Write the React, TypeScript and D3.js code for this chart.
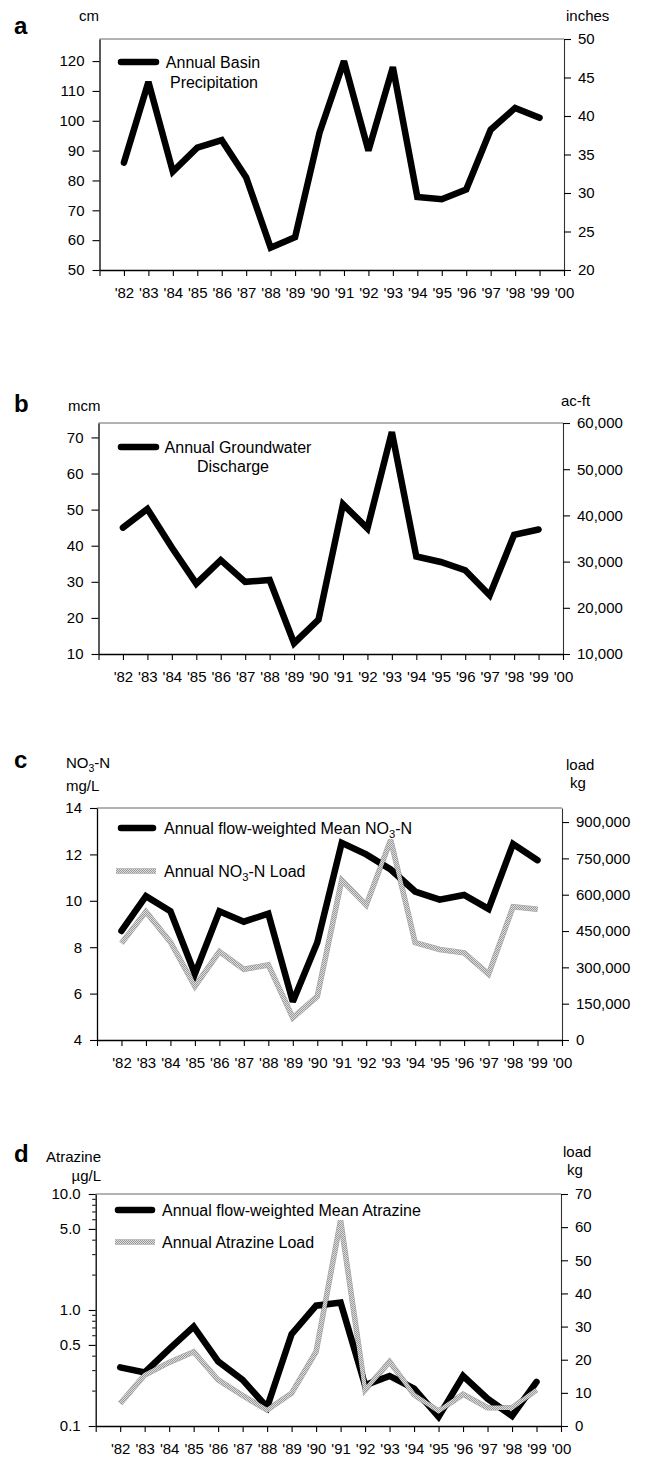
import React, { useEffect, useRef } from "react";
import * as d3 from "d3";

const FONT = "'Liberation Sans', Arial, Helvetica, sans-serif";

// years plotted, and the bottom axis ticks
const years = [1982, 1983, 1984, 1985, 1986, 1987, 1988, 1989, 1990, 1991, 1992, 1993, 1994, 1995, 1996, 1997, 1998, 1999];
const tickYears = [1981, 1982, 1983, 1984, 1985, 1986, 1987, 1988, 1989, 1990, 1991, 1992, 1993, 1994, 1995, 1996, 1997, 1998, 1999, 2000];
const yearLabels = ["'82", "'83", "'84", "'85", "'86", "'87", "'88", "'89", "'90", "'91", "'92", "'93", "'94", "'95", "'96", "'97", "'98", "'99", "'00"];

// a - annual basin precipitation (cm)
const precipCm = [86, 113, 83, 91, 93.5, 81, 57.5, 61, 96, 120, 90, 118, 74.5, 73.7, 77, 97, 104.3, 101];
const precipCmTicks = [50, 60, 70, 80, 90, 100, 110, 120];
const precipInTicks = [20, 25, 30, 35, 40, 45, 50];

// b - annual groundwater discharge (mcm)
const dischargeMcm = [45, 50.2, 39.5, 29.5, 36, 30, 30.5, 13, 19.5, 51.5, 44.8, 71.5, 37, 35.5, 33.2, 26.3, 43, 44.5];
const dischargeMcmTicks = [10, 20, 30, 40, 50, 60, 70];
const dischargeAcFtTicks = [10000, 20000, 30000, 40000, 50000, 60000];

// c - nitrate
const no3Mean = [8.7, 10.2, 9.55, 6.85, 9.55, 9.1, 9.45, 5.65, 8.2, 12.5, 12.0, 11.35, 10.4, 10.05, 10.25, 9.65, 12.45, 11.75];
const no3Load = [400000, 530000, 405000, 222000, 365000, 292000, 310000, 92000, 180000, 660000, 557000, 826000, 402000, 374000, 360000, 272000, 550000, 540000];
const no3Ticks = [4, 6, 8, 10, 12, 14];
const no3LoadTicks = [0, 150000, 300000, 450000, 600000, 750000, 900000];

// d - atrazine
const atrazineMean = [0.32, 0.29, 0.46, 0.72, 0.36, 0.25, 0.145, 0.62, 1.09, 1.16, 0.225, 0.27, 0.21, 0.12, 0.27, 0.172, 0.122, 0.24];
const atrazineLoad = [6.8, 15.4, 19.2, 22.4, 13.9, 9.2, 4.8, 9.9, 22.4, 62, 10.9, 19.4, 9.4, 4.5, 9.6, 5.5, 5.5, 10.9];
const atrazineTicks = [0.1, 0.5, 1, 5, 10];
const atrazineMinorTicks = [0.2, 0.3, 0.4, 0.6, 0.7, 0.8, 0.9, 2, 3, 4, 6, 7, 8, 9];
const atrazineLoadTicks = [0, 10, 20, 30, 40, 50, 60, 70];

type Label = { text: string; x: number; y: number; anchor?: string; size?: number; bold?: boolean; sub?: string; after?: string };

interface Panel {
  left: number; right: number; top: number; bottom: number;
  log?: boolean;
  leftDomain: [number, number]; rightDomain: [number, number];
  leftTicks: number[]; rightTicks: number[]; minorTicks?: number[];
  leftFormat: (d: number) => string; rightFormat: (d: number) => string;
  main: number[]; load?: number[];
  labels: Label[];
  legend: { y: number; x1: number; x2: number; grey?: boolean; lines: Label[] }[];
}

const comma = d3.format(",");

const panels: Panel[] = [
  {
    left: 99.5, right: 564, top: 39, bottom: 270,
    leftDomain: [50, 127.4], rightDomain: [20, 50],
    leftTicks: precipCmTicks, rightTicks: precipInTicks,
    leftFormat: (d) => String(d), rightFormat: (d) => String(d),
    main: precipCm,
    labels: [
      { text: "a", x: 14, y: 34, size: 24, bold: true },
      { text: "cm", x: 79, y: 21 },
      { text: "inches", x: 566, y: 21 },
    ],
    legend: [{ y: 62, x1: 121, x2: 156, lines: [
      { text: "Annual Basin", x: 213, y: 67.5, anchor: "middle" },
      { text: "Precipitation", x: 214, y: 87.5, anchor: "middle" },
    ] }],
  },
  {
    left: 98.5, right: 563, top: 423, bottom: 654,
    leftDomain: [10, 74], rightDomain: [10000, 60000],
    leftTicks: dischargeMcmTicks, rightTicks: dischargeAcFtTicks,
    leftFormat: (d) => String(d), rightFormat: (d) => comma(d),
    main: dischargeMcm,
    labels: [
      { text: "b", x: 14, y: 412, size: 24, bold: true },
      { text: "mcm", x: 68, y: 411 },
      { text: "ac-ft", x: 561, y: 406 },
    ],
    legend: [{ y: 447, x1: 121, x2: 156, lines: [
      { text: "Annual Groundwater", x: 238, y: 452.5, anchor: "middle" },
      { text: "Discharge", x: 233, y: 471.5, anchor: "middle" },
    ] }],
  },
  {
    left: 97, right: 562, top: 808, bottom: 1040,
    leftDomain: [4, 14], rightDomain: [0, 958000],
    leftTicks: no3Ticks, rightTicks: no3LoadTicks,
    leftFormat: (d) => String(d), rightFormat: (d) => comma(d),
    main: no3Mean, load: no3Load,
    labels: [
      { text: "c", x: 14, y: 768, size: 24, bold: true },
      { text: "NO", sub: "3", after: "-N", x: 66, y: 768 },
      { text: "mg/L", x: 66, y: 791 },
      { text: "load", x: 566, y: 770 },
      { text: "kg", x: 570, y: 788 },
    ],
    legend: [
      { y: 828, x1: 121, x2: 153, lines: [{ text: "Annual flow-weighted Mean NO", sub: "3", after: "-N", x: 164, y: 833.5 }] },
      { y: 871, x1: 116, x2: 156, grey: true, lines: [{ text: "Annual NO", sub: "3", after: "-N Load", x: 164, y: 876.5 }] },
    ],
  },
  {
    left: 95.7, right: 561, top: 1194, bottom: 1426,
    log: true,
    leftDomain: [0.1, 10], rightDomain: [0, 70],
    leftTicks: atrazineTicks, rightTicks: atrazineLoadTicks, minorTicks: atrazineMinorTicks,
    leftFormat: (d) => d3.format(".1f")(d), rightFormat: (d) => String(d),
    main: atrazineMean, load: atrazineLoad,
    labels: [
      { text: "d", x: 14, y: 1162, size: 24, bold: true },
      { text: "Atrazine", x: 101, y: 1162, anchor: "end" },
      { text: "\u00b5g/L", x: 101, y: 1181, anchor: "end" },
      { text: "load", x: 563, y: 1157 },
      { text: "kg", x: 567, y: 1175 },
    ],
    legend: [
      { y: 1210, x1: 118, x2: 152, lines: [{ text: "Annual flow-weighted Mean Atrazine", x: 162, y: 1215.5 }] },
      { y: 1242, x1: 115, x2: 155, grey: true, lines: [{ text: "Annual Atrazine Load", x: 162, y: 1247.5 }] },
    ],
  },
];

function addText(g: any, l: Label, defSize = 15) {
  const t = g.append("text")
    .attr("x", l.x).attr("y", l.y)
    .attr("font-family", FONT)
    .attr("font-size", l.size ?? defSize)
    .attr("font-weight", l.bold ? "bold" : "normal")
    .attr("text-anchor", l.anchor ?? "start")
    .attr("fill", "#000");
  t.append("tspan").text(l.text);
  if (l.sub) {
    t.append("tspan").attr("dy", 4).attr("font-size", (l.size ?? defSize) * 0.7).text(l.sub);
    t.append("tspan").attr("dy", -4).text(l.after ?? "");
  }
}

function greyStroke(sel: any, width: number) {
  // speckled grey line: soft rim with a checkered core
  sel.clone().attr("stroke", "#a8a8a8").attr("stroke-width", width).lower();
  sel.attr("stroke", "url(#speckle)").attr("stroke-width", width - 1.2);
}

function drawPanel(svg: any, p: Panel) {
  const g = svg.append("g");
  const x = d3.scaleLinear().domain([1981, 2000]).range([p.left, p.right]);
  const yL: any = p.log
    ? d3.scaleLog().domain(p.leftDomain).range([p.bottom, p.top])
    : d3.scaleLinear().domain(p.leftDomain).range([p.bottom, p.top]);
  const yR = d3.scaleLinear().domain(p.rightDomain).range([p.bottom, p.top]);

  g.append("line")
    .attr("x1", p.left).attr("x2", p.right)
    .attr("y1", p.top).attr("y2", p.top)
    .attr("stroke", "#666").attr("stroke-width", 1);

  const style = (a: any) => {
    a.select(".domain").attr("stroke", "#000").attr("stroke-width", 1.3);
    a.selectAll(".tick line").attr("stroke", "#000").attr("stroke-width", 1.1);
    a.selectAll("text").attr("font-family", FONT).attr("font-size", 15).attr("fill", "#000");
  };

  g.append("g")
    .attr("transform", `translate(0,${p.bottom})`)
    .call(
      d3.axisBottom(x)
        .tickValues(tickYears)
        .tickSize(6).tickSizeOuter(0).tickPadding(11)
        .tickFormat((d: any) => (d === 1981 ? "" : yearLabels[d - 1982]))
    )
    .call(style);

  g.append("g")
    .attr("transform", `translate(${p.left},0)`)
    .call(d3.axisLeft(yL).tickValues(p.leftTicks).tickSize(7).tickSizeOuter(0).tickPadding(8).tickFormat(p.leftFormat as any))
    .call(style);

  if (p.minorTicks) {
    g.append("g").selectAll("line").data(p.minorTicks).join("line")
      .attr("x1", p.left - 3.5).attr("x2", p.left)
      .attr("y1", (d: number) => yL(d)).attr("y2", (d: number) => yL(d))
      .attr("stroke", "#000").attr("stroke-width", 1);
  }

  g.append("g")
    .attr("transform", `translate(${p.right},0)`)
    .call(d3.axisRight(yR).tickValues(p.rightTicks).tickSize(7).tickSizeOuter(0).tickPadding(7).tickFormat(p.rightFormat as any))
    .call(style)
    .call((a: any) => a.select(".domain").attr("stroke", "#333").attr("stroke-width", 1.1));

  const lineL = d3.line<number>().x((_, i) => x(years[i])).y((d) => yL(d));
  g.append("path")
    .attr("d", lineL(p.main))
    .attr("fill", "none").attr("stroke", "#000").attr("stroke-width", 6.5)
    .attr("stroke-linejoin", "miter").attr("stroke-miterlimit", 3).attr("stroke-linecap", "round");

  if (p.load) {
    const lineR = d3.line<number>().x((_, i) => x(years[i])).y((d) => yR(d));
    const path = g.append("path")
      .attr("d", lineR(p.load))
      .attr("fill", "none")
      .attr("stroke-linejoin", "miter").attr("stroke-miterlimit", 3);
    greyStroke(path, 5.5);
  }

  p.labels.forEach((l) => addText(g, l));

  p.legend.forEach((lg) => {
    const ln = g.append("line")
      .attr("x1", lg.x1).attr("x2", lg.x2).attr("y1", lg.y).attr("y2", lg.y)
      .attr("fill", "none");
    if (lg.grey) {
      greyStroke(ln, 5.5);
    } else {
      ln.attr("stroke", "#000").attr("stroke-width", 6.5).attr("stroke-linecap", "round");
    }
    lg.lines.forEach((l) => addText(g, l, 16));
  });
}

export default function App() {
  const ref = useRef<SVGSVGElement>(null);
  useEffect(() => {
    const svg = d3.select(ref.current);
    svg.selectAll("*").remove();
    const pat = svg.append("defs").append("pattern")
      .attr("id", "speckle").attr("width", 2).attr("height", 2)
      .attr("patternUnits", "userSpaceOnUse");
    pat.append("rect").attr("width", 2).attr("height", 2).attr("fill", "#dcdcdc");
    pat.append("rect").attr("width", 1).attr("height", 1).attr("fill", "#9a9a9a");
    pat.append("rect").attr("x", 1).attr("y", 1).attr("width", 1).attr("height", 1).attr("fill", "#9a9a9a");
    panels.forEach((p) => drawPanel(svg, p));
  }, []);

  return (
    <svg
      ref={ref}
      width={648}
      height={1460}
      style={{ position: "absolute", left: 0, top: 0, background: "#fff" }}
    />
  );
}
